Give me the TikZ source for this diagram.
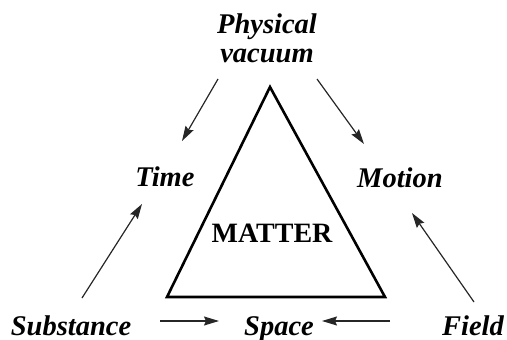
\documentclass[tikz,border=0pt]{standalone}
\usepackage{fontspec}
\setmainfont{Liberation Serif}
\usetikzlibrary{arrows.meta}
\begin{document}
\begin{tikzpicture}[x=1pt,y=-1pt,
  lbl/.style={font=\fontsize{28.5}{30}\selectfont\bfseries\itshape, inner sep=0pt, anchor=base},
  arr/.style={draw=black!85, line width=1.2pt, -{Stealth[length=15pt,width=9pt,inset=2pt]}},
  tri/.style={draw=black, line width=2.6pt, line join=miter}]
\useasboundingbox (0,0) rectangle (507,340);
% labels
\node[lbl] (phys) at (267,33) {Physical};
\node[lbl] (vac) at (267,63) {vacuum};
\node[lbl] (time) at (165,186) {Time};
\node[lbl] (motion) at (400,187) {Motion};
\node[lbl] (subst) at (71,335) {Substance};
\node[lbl] (space) at (279,335) {Space};
\node[lbl] (field) at (473,335) {Field};
% triangle
\coordinate (apex) at (270,87);
\coordinate (bl) at (167,297);
\coordinate (br) at (385,297);
\draw[tri] (apex) -- (bl) -- (br) -- cycle;
\node[font=\fontsize{28}{30}\selectfont\bfseries, inner sep=0pt, anchor=base] (matter) at (272,242) {MATTER};
% arrow endpoints
\coordinate (a1s) at (218,79);  \coordinate (a1e) at (182,141);
\coordinate (a2s) at (317,79);  \coordinate (a2e) at (364,144);
\coordinate (a3s) at (82,298);  \coordinate (a3e) at (142,204);
\coordinate (a4s) at (474,302); \coordinate (a4e) at (412,213);
\coordinate (a5s) at (160,321); \coordinate (a5e) at (219,321);
\coordinate (a6s) at (390,321); \coordinate (a6e) at (322,321);
\draw[arr] (a1s) -- (a1e);
\draw[arr] (a2s) -- (a2e);
\draw[arr] (a3s) -- (a3e);
\draw[arr] (a4s) -- (a4e);
\draw[arr] (a5s) -- (a5e);
\draw[arr] (a6s) -- (a6e);
\end{tikzpicture}
\end{document}
